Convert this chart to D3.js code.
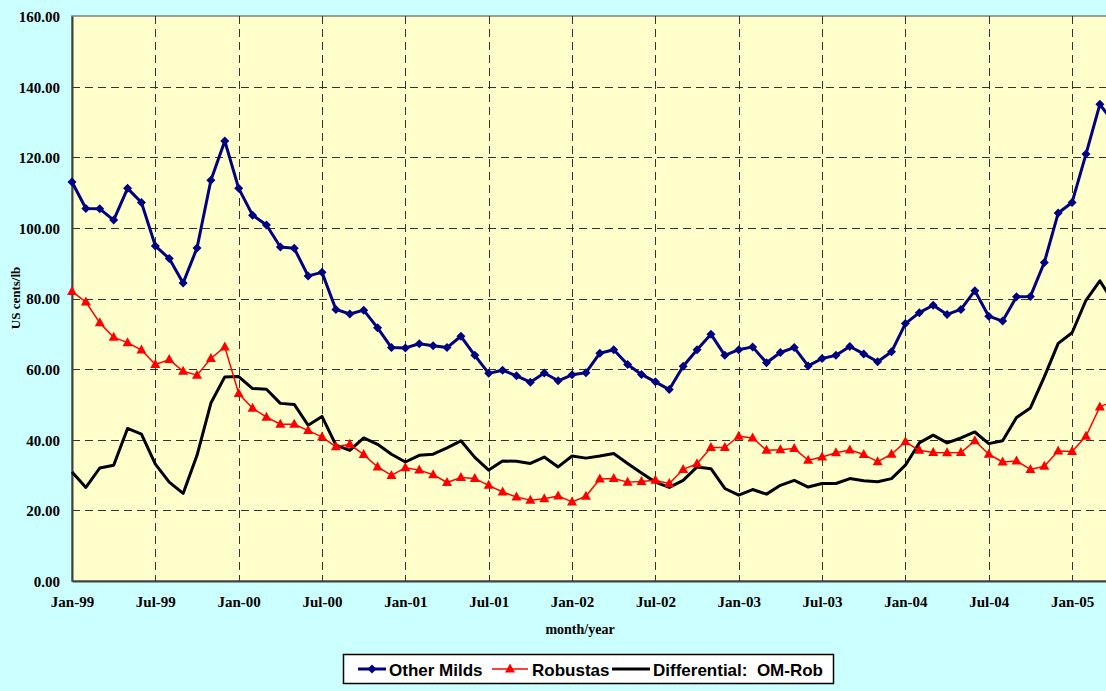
<!DOCTYPE html>
<html>
<head>
<meta charset="utf-8">
<script src="https://cdn.jsdelivr.net/npm/d3@7"></script>
<style>
    body { margin: 0; background: #ccffff; overflow: hidden; }
    svg { display: block; }
</style>
</head>
<body>
<div id="chart"></div>
<script>
// monthly prices, Jan-99 .. Apr-05 (US cents/lb)
let otherMilds = [113.0, 105.5, 105.4, 102.2, 111.2, 107.2, 94.9, 91.3, 84.4, 94.3, 113.5, 124.6,
    111.2, 103.6, 100.8, 94.6, 94.2, 86.4, 87.4, 76.9, 75.6, 76.7, 71.7, 66.1,
    66.0, 67.2, 66.6, 66.1, 69.3, 63.9, 58.8, 59.7, 58.1, 56.3, 58.9, 56.7,
    58.4, 59.0, 64.5, 65.5, 61.3, 58.5, 56.4, 54.2, 60.8, 65.5, 69.9, 63.9,
    65.5, 66.3, 61.8, 64.7, 66.1, 60.9, 63.0, 63.9, 66.4, 64.3, 62.1, 64.9,
    72.9, 76.0, 78.1, 75.5, 76.9, 82.2, 75.0, 73.6, 80.5, 80.6, 90.2, 104.2,
    107.2, 120.9, 135.0, 129.8];
let robustas = [82.0, 79.0, 73.1, 69.0, 67.5, 65.4, 61.3, 62.7, 59.4, 58.3, 63.0, 66.3,
    53.1, 48.9, 46.4, 44.4, 44.4, 42.6, 40.8, 38.0, 38.7, 35.8, 32.3, 29.9,
    32.1, 31.4, 30.1, 27.9, 29.3, 29.0, 27.1, 25.2, 23.8, 22.9, 23.3, 24.1,
    22.4, 24.0, 28.9, 29.0, 28.0, 28.2, 28.5, 27.6, 31.6, 33.2, 37.8, 37.8,
    41.0, 40.5, 37.0, 37.2, 37.5, 34.2, 35.1, 36.3, 37.1, 35.8, 33.8, 35.9,
    39.4, 37.0, 36.4, 36.3, 36.4, 39.7, 35.9, 33.7, 34.0, 31.6, 32.5, 36.8,
    36.7, 41.0, 49.3, 51.0];
let differential = [30.9, 26.5, 32.0, 32.8, 43.2, 41.6, 33.1, 28.0, 24.8, 35.6, 50.4, 57.8,
    57.9, 54.5, 54.3, 50.3, 50.0, 44.1, 46.6, 38.5, 37.0, 40.5, 38.7, 35.9,
    33.7, 35.6, 35.9, 37.7, 39.7, 35.0, 31.4, 34.0, 33.9, 33.3, 35.1, 32.3,
    35.4, 34.8, 35.4, 36.1, 33.3, 30.6, 28.0, 26.5, 28.5, 32.3, 31.8, 26.2,
    24.3, 25.9, 24.6, 27.1, 28.5, 26.6, 27.6, 27.6, 29.0, 28.4, 28.1, 29.0,
    32.8, 39.1, 41.3, 39.1, 40.5, 42.2, 38.9, 39.7, 46.3, 49.0, 57.8, 67.3,
    70.3, 79.5, 85.0, 78.8];
let tickLabels = ["Jan-99", "Jul-99", "Jan-00", "Jul-00", "Jan-01", "Jul-01", "Jan-02",
    "Jul-02", "Jan-03", "Jul-03", "Jan-04", "Jul-04", "Jan-05"];
let yTicks = [0, 20, 40, 60, 80, 100, 120, 140, 160];
let seriesNames = ["Other Milds", "Robustas", "Differential:  OM-Rob"];

let width = 1106, height = 691;
let fmt = d3.timeFormat("%b-%y");
let months = d3.timeMonth.range(new Date(1999, 0, 1), new Date(1999, 0 + otherMilds.length, 1)).map(fmt);

let plotLeft = 72, plotTop = 16, plotBottom = 581;
let step = 13.89;

let x = d3.scalePoint()
    .domain(months)
    .range([plotLeft, plotLeft + step * (months.length - 1)]);
let y = d3.scaleLinear().domain([0, 160]).range([plotBottom, plotTop]);

let svg = d3.select('#chart').append('svg')
    .attr('width', width)
    .attr('height', height);

svg.append('rect')
    .attr('x', plotLeft).attr('y', plotTop)
    .attr('width', width - plotLeft + 20).attr('height', plotBottom - plotTop)
    .attr('fill', '#ffffcc')
    .attr('stroke', '#808080')
    .attr('stroke-width', 1.5);

// grid
let grid = svg.append('g')
    .attr('stroke', '#333')
    .attr('stroke-width', 1)
    .attr('stroke-dasharray', '8,5');
grid.selectAll('line.h')
    .data(yTicks.filter(d => d > 0 && d < 160))
    .enter().append('line')
    .attr('x1', plotLeft).attr('x2', width)
    .attr('y1', d => Math.round(y(d)) + 0.5)
    .attr('y2', d => Math.round(y(d)) + 0.5);
grid.selectAll('line.v')
    .data(tickLabels.slice(1))
    .enter().append('line')
    .attr('x1', d => Math.round(x(d)) + 0.5)
    .attr('x2', d => Math.round(x(d)) + 0.5)
    .attr('y1', plotTop).attr('y2', plotBottom);

// axes
let yAxis = svg.append('g')
    .attr('transform', `translate(${plotLeft},0)`)
    .call(d3.axisLeft(y).tickValues(yTicks).tickSize(0).tickPadding(12).tickFormat(d3.format('.2f')));
let xAxis = svg.append('g')
    .attr('transform', `translate(0,${plotBottom})`)
    .call(d3.axisBottom(x).tickValues(tickLabels).tickSize(0).tickPadding(15));
[xAxis, yAxis].forEach(a => {
    a.select('.domain').attr('stroke', '#404040').attr('stroke-width', 2);
    a.selectAll('text')
        .attr('font-family', '"Liberation Serif", "Times New Roman", serif')
        .attr('font-weight', 'bold')
        .attr('font-size', '15px')
        .attr('fill', '#000');
});
yAxis.selectAll('text').attr('dy', '0.36em');

svg.append('text')
    .attr('x', 580).attr('y', 634)
    .attr('text-anchor', 'middle')
    .attr('font-family', '"Liberation Serif", serif')
    .attr('font-weight', 'bold')
    .attr('font-size', '14px')
    .text('month/year');

svg.append('text')
    .attr('transform', 'translate(20,298) rotate(-90)')
    .attr('text-anchor', 'middle')
    .attr('font-family', '"Liberation Serif", serif')
    .attr('font-weight', 'bold')
    .attr('font-size', '13px')
    .text('US cents/lb');

// series
let diamond = 'M0,-4.5L4.5,0L0,4.5L-4.5,0Z';
let triangle = 'M0,-5.5L5,3.5L-5,3.5Z';

let series = [
    {name: seriesNames[0], values: otherMilds, color: '#000080', width: 3, marker: diamond},
    {name: seriesNames[1], values: robustas, color: '#ff0000', width: 1.5, marker: triangle},
    {name: seriesNames[2], values: differential, color: '#000000', width: 3, marker: null}
];

let line = d3.line()
    .x((d, i) => x(months[i]))
    .y(d => y(d));

let plot = svg.append('g');
series.slice().reverse().forEach(s => {
    plot.append('path')
        .datum(s.values)
        .attr('d', line)
        .attr('fill', 'none')
        .attr('stroke', s.color)
        .attr('stroke-width', s.width)
        .attr('stroke-linejoin', 'round');
    if (s.marker) {
        plot.selectAll(null)
            .data(s.values)
            .enter().append('path')
            .attr('d', s.marker)
            .attr('transform', (d, i) => `translate(${x(months[i])},${y(d)})`)
            .attr('fill', s.color);
    }
});

// legend
let legend = svg.append('g');
legend.append('rect')
    .attr('x', 343.5).attr('y', 654.5)
    .attr('width', 490).attr('height', 29)
    .attr('fill', '#fff')
    .attr('stroke', '#000')
    .attr('stroke-width', 1.5);
let legendX = [[358, 386, 389], [492, 528, 532], [612, 650, 653]];
series.forEach((s, i) => {
    let [x1, x2, tx] = legendX[i];
    legend.append('line')
        .attr('x1', x1).attr('x2', x2)
        .attr('y1', 669).attr('y2', 669)
        .attr('stroke', s.color)
        .attr('stroke-width', s.width);
    if (s.marker) {
        legend.append('path')
            .attr('d', s.marker)
            .attr('transform', `translate(${(x1 + x2) / 2},669)`)
            .attr('fill', s.color);
    }
    legend.append('text')
        .attr('x', tx).attr('y', 676)
        .attr('font-family', '"Liberation Sans", Arial, sans-serif')
        .attr('font-weight', 'bold')
        .attr('font-size', '17px')
        .style('white-space', 'pre')
        .text(s.name);
});
</script>
</body>
</html>
